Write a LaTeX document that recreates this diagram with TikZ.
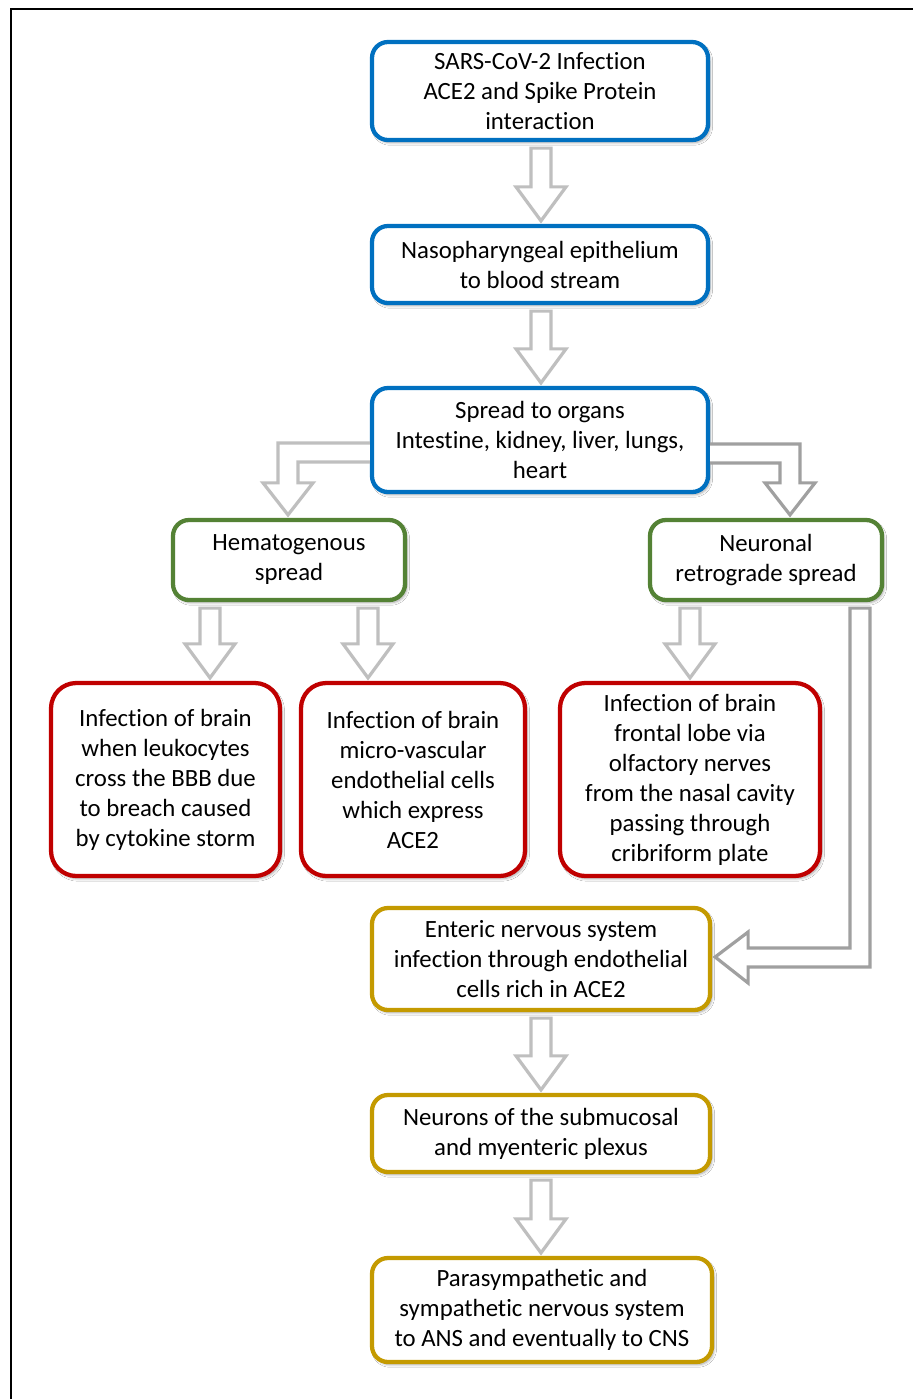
\documentclass[tikz,border=0pt]{standalone}
\usepackage{fontspec}
\setmainfont{Carlito}[Ligatures=NoCommon]
\usetikzlibrary{calc,shadows.blur}
\definecolor{cblue}{HTML}{0070C0}
\definecolor{cgreen}{HTML}{548235}
\definecolor{cred}{HTML}{C00000}
\definecolor{cgold}{HTML}{C49A00}
\definecolor{alight}{HTML}{BFBFBF}
\definecolor{adark}{HTML}{A0A0A0}
\newcommand\bdown[4]{%
  \coordinate (s) at (#2,0 |- #3.south);
  \coordinate (t) at (#2,0 |- #4.north);
  \draw[#1] ($(s)+(-10,6)$) -- ($(s)+(10,6)$) -- ($(t)+(10,-37)$) -- ($(t)+(25,-37)$) -- ($(t)+(0,-3)$) -- ($(t)+(-25,-37)$) -- ($(t)+(-10,-37)$) -- cycle;}
\begin{document}
\begin{tikzpicture}[x=0.75pt,y=-0.75pt,
  boxbase/.style={draw,fill=white,rounded corners=12pt,line width=3.2pt,align=center,
    font=\fontsize{18.6}{22.5}\selectfont,inner sep=0pt,
    blur shadow={shadow xshift=1.5pt,shadow yshift=-2pt,shadow blur steps=6,shadow opacity=35}},
  bluebox/.style={boxbase,draw=cblue},
  greenbox/.style={boxbase,draw=cgreen},
  redbox/.style={boxbase,draw=cred,rounded corners=19pt},
  goldbox/.style={boxbase,draw=cgold},
  arrlight/.style={draw=alight,line width=2.4pt,fill=white,line join=miter},
  arrdark/.style={draw=adark,line width=2.4pt,fill=white,line join=miter}]
\useasboundingbox (0,0) rectangle (913,1399);
\fill[white] (0,0) rectangle (913,1399);
\draw[line width=0.9pt] (11,1399) -- (11,9) -- (913,9);

\node[bluebox,minimum width=252pt,minimum height=73.5pt] (b1) at (540,91)
  {SARS-CoV-2 Infection\\ACE2 and Spike Protein\\interaction};
\node[bluebox,minimum width=252pt,minimum height=57.75pt] (b2) at (540,264.5)
  {Nasopharyngeal epithelium\\to blood stream};
\node[bluebox,minimum width=252pt,minimum height=78pt] (b3) at (540,440)
  {Spread to organs\\Intestine, kidney, liver, lungs,\\heart};
\node[greenbox,minimum width=174pt,minimum height=60pt] (hema) at (289,560)
  {Hematogenous\\spread};
\node[greenbox,minimum width=174pt,minimum height=60pt] (neur) at (766,560)
  {Neuronal\\retrograde spread};
\node[redbox,minimum width=171.75pt,minimum height=144.75pt] (r1) at (165.5,779.5)
  {Infection of brain\\when leukocytes\\cross the BBB due\\to breach caused\\by cytokine storm};
\node[redbox,minimum width=168pt,minimum height=144.75pt] (r2) at (413,779.5)
  {Infection of brain\\micro-vascular\\endothelial cells\\which express\\ACE2};
\node[redbox,minimum width=195pt,minimum height=144.75pt] (r3) at (690,779.5)
  {Infection of brain\\frontal lobe via\\olfactory nerves\\from the nasal cavity\\passing through\\cribriform plate};
\node[goldbox,minimum width=253.5pt,minimum height=76.5pt] (g1) at (541,959)
  {Enteric nervous system\\infection through endothelial\\cells rich in ACE2};
\node[goldbox,minimum width=253.5pt,minimum height=57.75pt] (g2) at (541,1133.5)
  {Neurons of the submucosal\\and myenteric plexus};
\node[goldbox,minimum width=255pt,minimum height=78pt] (g3) at (542,1310)
  {Parasympathetic and\\sympathetic nervous system\\to ANS and eventually to CNS};

% straight block arrows
\bdown{arrlight}{541}{b1}{b2}
\bdown{arrlight}{541}{b2}{b3}
\bdown{arrlight}{210}{hema}{r1}
\bdown{arrlight}{368}{hema}{r2}
\bdown{arrlight}{690}{neur}{r3}
\bdown{arrlight}{541}{g1}{g2}
\bdown{arrlight}{541}{g2}{g3}

% bent arrow to hematogenous spread
\coordinate (lt) at (288,0 |- hema.north);
\draw[arrlight] (b3.west |- 0,443) -- (278,443) -- ($(lt)+(-10,-35)$) -- ($(lt)+(-25,-35)$) -- ($(lt)+(0,-3)$)
  -- ($(lt)+(25,-35)$) -- ($(lt)+(10,-35)$) -- (298,462) -- (b3.west |- 0,462);

% bent arrow to neuronal retrograde spread
\coordinate (rt) at (790,0 |- neur.north);
\draw[arrdark] (b3.east |- 0,444) -- (800,444) -- ($(rt)+(10,-35)$) -- ($(rt)+(25,-35)$) -- ($(rt)+(0,-3)$)
  -- ($(rt)+(-25,-35)$) -- ($(rt)+(-10,-35)$) -- (780,463) -- (b3.east |- 0,463);

% long arrow from neuronal spread to enteric nervous system
\coordinate (ns) at (860,0 |- neur.south);
\coordinate (gt) at (g1.east |- 0,957);
\draw[arrdark] ($(ns)+(-10,6)$) -- ($(ns)+(10,6)$) -- (870,967) -- ($(gt)+(36,10)$) -- ($(gt)+(36,26)$)
  -- ($(gt)+(3,0)$) -- ($(gt)+(36,-25)$) -- ($(gt)+(36,-9)$) -- (850,948) -- cycle;
\end{tikzpicture}
\end{document}
